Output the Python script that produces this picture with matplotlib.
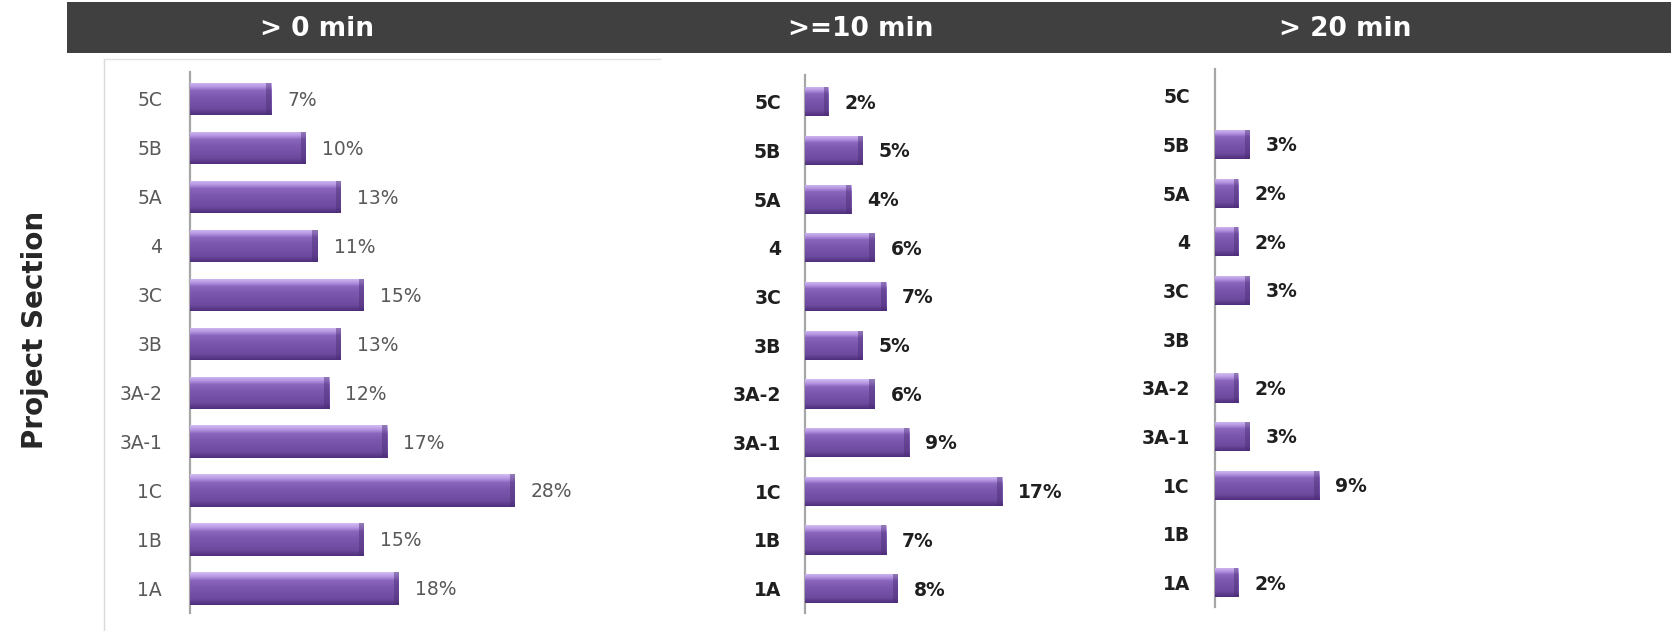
import numpy as np
import matplotlib
matplotlib.use('Agg')
import matplotlib.pyplot as plt
from matplotlib.patches import Rectangle
from matplotlib.lines import Line2D
from matplotlib.colors import LinearSegmentedColormap

# Data (top to bottom as in the chart)
sections = ['5C', '5B', '5A', '4', '3C', '3B', '3A-2', '3A-1', '1C', '1B', '1A']
pct_over_0 = [7, 10, 13, 11, 15, 13, 12, 17, 28, 15, 18]
pct_10_plus = [2, 5, 4, 6, 7, 5, 6, 9, 17, 7, 8]
pct_over_20 = [None, 3, 2, 2, 3, None, 2, 3, 9, None, 2]
panel_titles = ['> 0 min', '>=10 min', '> 20 min']

W, H = 1671, 631
fig = plt.figure(figsize=(W / 100, H / 100), dpi=100)
fig.patch.set_facecolor('white')

# purple bevel-ish gradient, bottom -> top
bar_cmap = LinearSegmentedColormap.from_list(
    'bevel', [(0.0, '#4e2f7c'), (0.18, '#6d4a9e'), (0.55, '#7c59af'),
              (0.75, '#8a66bd'), (0.86, '#b393e0'), (1.0, '#d2bdf3')])
grad = np.linspace(1, 0, 64).reshape(-1, 1)


def px_rect(left, top, width, bottom):
    return [left / W, 1 - bottom / H, width / W, (bottom - top) / H]


def draw_panel(rect, values, bar_h, lab_color, lab_size, lab_weight, pad):
    ax = fig.add_axes(rect)
    y = np.arange(len(sections))
    vals = [v if v is not None else 0 for v in values]
    bars = ax.barh(y, vals, height=bar_h, color='#7c59af', edgecolor='none', zorder=2)
    for b, v in zip(bars, values):
        if v is None:
            continue
        x0, y0 = b.get_x(), b.get_y()
        w, h = b.get_width(), b.get_height()
        im = ax.imshow(grad, cmap=bar_cmap, aspect='auto', origin='upper',
                       extent=(x0, x0 + w, y0 + h, y0), zorder=3)
        im.set_clip_path(b)
        # darker right end
        ax.add_patch(Rectangle((x0 + w - min(0.45, w * 0.2), y0), min(0.45, w * 0.2), h,
                               color='#4a2c75', alpha=0.45, zorder=4, lw=0))
        ax.annotate(f'{v}%', (x0 + w, y0 + h / 2), xytext=(11.5, -1),
                    textcoords='offset points', va='center', ha='left',
                    color=lab_color, fontsize=lab_size, fontweight=lab_weight)
    ax.set_xlim(0, 30)
    ax.set_ylim(len(sections) - 0.5, -0.55)
    ax.set_yticks(y)
    ax.set_yticklabels(sections, color=lab_color, fontsize=lab_size, fontweight=lab_weight)
    ax.tick_params(axis='y', length=0, pad=pad)
    ax.set_xticks([])
    for s in ['top', 'right', 'bottom']:
        ax.spines[s].set_visible(False)
    ax.spines['left'].set_color('#a6a6a6')
    ax.spines['left'].set_linewidth(1.6)
    ax.patch.set_alpha(0)
    return ax


px_per_pct = 11.6
draw_panel(px_rect(190, 72, 30 * px_per_pct, 613), pct_over_0, 0.66,
           '#595959', 13.5, 'normal', 20)
draw_panel(px_rect(805, 75, 30 * px_per_pct, 613), pct_10_plus, 0.6,
           '#1f1f1f', 13.5, 'bold', 17)
draw_panel(px_rect(1215, 69, 30 * px_per_pct, 607), pct_over_20, 0.6,
           '#1f1f1f', 13.5, 'bold', 18)

# header band
fig.add_artist(Rectangle((67 / W, 1 - 53 / H), (W - 67) / W, 51 / H,
                         transform=fig.transFigure, color='#404040', lw=0))
for title, cx in zip(panel_titles, [317, 861, 1345]):
    fig.text(cx / W, 1 - 29 / H, title, color='white', fontsize=19,
             fontweight='bold', ha='center', va='center')

# light frame of the first chart
fig.add_artist(Line2D([104 / W, 104 / W], [1 - 59 / H, 0], transform=fig.transFigure,
                      color='#d9d9d9', lw=1))
fig.add_artist(Line2D([104 / W, 660 / W], [1 - 59 / H, 1 - 59 / H], transform=fig.transFigure,
                      color='#e3e3e3', lw=1))

fig.text(35 / W, 1 - 330 / H, 'Project Section', rotation=90, fontsize=20,
         fontweight='bold', color='#262626', ha='center', va='center')

fig.savefig('out.png', dpi=100)
